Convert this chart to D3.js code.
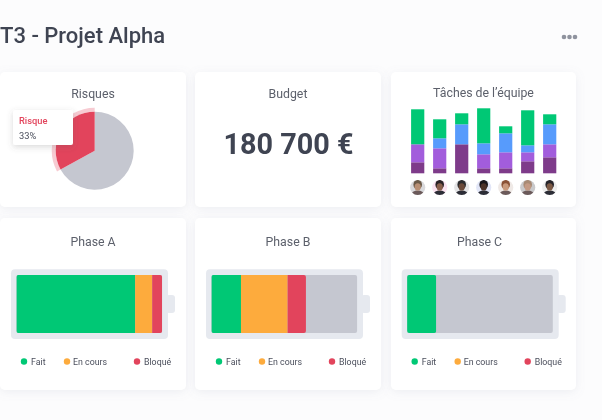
<!DOCTYPE html>
<html lang="fr"><head><meta charset="utf-8">
<script src="https://cdn.jsdelivr.net/npm/d3@7"></script>
<style>html,body{margin:0;padding:0;background:#fcfcfd;overflow:hidden}svg{display:block;font-family:Roboto,sans-serif;filter:blur(0.3px)}</style>
</head><body><svg id="c" width="602" height="420"></svg>
<script>
const pageTitle = "T3 - Projet Alpha";
const riskLabel = "Risque";
const riskValues = [67, 33];
const budgetText = "180 700 €";
const teamMembers = ["A","B","C","D","E","F","G"];
const stackKeys = ["sombre","violet","bleu","vert"];
const sombre = [11, 5, 29, 5, 5, 12, 16];
const violet = [18, 20, 0, 14, 16, 9, 13];
const bleu = [0, 10, 20, 11, 19, 7, 20];
const vert = [35, 19, 11, 35, 7, 35, 10];
const phaseNames = ["Phase A","Phase B","Phase C"];
const fait = [81.5, 20.3, 20];
const enCours = [11.7, 32, 0];
const bloque = [6.8, 12.6, 0];
const legendLabels = ["Fait","En cours","Bloqué"];

const colors = {fait:"#00c875",enCours:"#fdab3d",bloque:"#e2445c",grey:"#c5c7d0",shell:"#e6e9ef",ink:"#4b4f5c",title:"#3f4452"};
const stackColors = {sombre:"#7e3b8a",violet:"#a25ddc",bleu:"#579bfc",vert:"#00c875"};
const avatarSkin = ["#b98f74","#8a5f4c","#6b4a3a","#4a3128","#c99a7c","#c49a84","#7d5a45"];
const avatarHair = ["#6b5a48","#2a2226","#2b2b2e","#17151a","#8a5236","#a88a74","#26242a"];
const avatarBg = ["#d9d9dc","#fbe3f1","#e4e4e6","#e2e6f7","#efe9e6","#c9c9cb","#eeeeee"];

const svg = d3.select("#c");
const defs = svg.append("defs");
const sh = defs.append("filter").attr("id","sh").attr("x","-20%").attr("y","-20%").attr("width","140%").attr("height","140%");
sh.append("feDropShadow").attr("dx",0).attr("dy",2).attr("stdDeviation",5).attr("flood-color","#8a90a8").attr("flood-opacity",0.13);
const st = defs.append("filter").attr("id","st").attr("x","-30%").attr("y","-30%").attr("width","160%").attr("height","160%");
st.append("feDropShadow").attr("dx",0).attr("dy",2).attr("stdDeviation",3).attr("flood-color","#555").attr("flood-opacity",0.22);

svg.append("text").attr("x",0).attr("y",43).attr("font-size",22).attr("font-weight",500).attr("fill",colors.title).text(pageTitle);
svg.append("g").selectAll("circle").data([564,569.5,575]).join("circle")
  .attr("cx",d=>d).attr("cy",37).attr("r",2.3).attr("fill","#8f939e");

const cards = [[0,72,186,135],[195,72,186,135],[391,72,185,135],[0,218,186,172],[195,218,186,172],[391,218,185,172]];
svg.append("g").selectAll("rect").data(cards).join("rect")
  .attr("x",d=>d[0]).attr("y",d=>d[1]).attr("width",d=>d[2]).attr("height",d=>d[3]).attr("rx",5)
  .attr("fill","#fff").attr("filter","url(#sh)");

function cardTitle(x,y,t){svg.append("text").attr("x",x).attr("y",y).attr("text-anchor","middle").attr("font-size",12.3).attr("fill","#5c606b").text(t);}
cardTitle(93,98,"Risques"); cardTitle(288,98,"Budget"); cardTitle(483.5,97,"Tâches de l’équipe");

// Pie
const pieG = svg.append("g").attr("transform","translate(94.7,150.7)");
const arcs = d3.pie().sort(null)(riskValues);
pieG.append("path").attr("d",d3.arc().innerRadius(39).outerRadius(43)(arcs[1])).attr("fill",colors.bloque).attr("opacity",0.28);
pieG.selectAll("path.s").data(arcs).join("path").attr("class","s")
  .attr("d",d3.arc().innerRadius(0).outerRadius(39)).attr("fill",(d,i)=>i?colors.bloque:colors.grey);
svg.append("rect").attr("x",13).attr("y",110).attr("width",60).attr("height",35).attr("rx",2).attr("fill","#fff").attr("filter","url(#st)");
svg.append("text").attr("x",19).attr("y",124).attr("font-size",9.3).attr("font-weight",500).attr("fill",colors.bloque).text(riskLabel);
svg.append("text").attr("x",19).attr("y",139).attr("font-size",9.3).attr("fill",colors.ink).text(riskValues[1]+"%");

// Budget
svg.append("text").attr("x",288.5).attr("y",154).attr("text-anchor","middle").attr("font-size",28.8).attr("font-weight",700).attr("fill",colors.title).text(budgetText);

// Team stacks
const rows = teamMembers.map((m,i)=>({m,sombre:sombre[i],violet:violet[i],bleu:bleu[i],vert:vert[i]}));
const tx = d3.scaleBand().domain(teamMembers).range([406.7,560.7]).paddingInner(0.4).paddingOuter(0.2);
const ty = d3.scaleLinear().domain([0,64]).range([173.3,109.3]);
svg.append("g").selectAll("g").data(d3.stack().keys(stackKeys)(rows)).join("g").attr("fill",d=>stackColors[d.key])
  .selectAll("rect").data(d=>d).join("rect")
  .attr("x",d=>tx(d.data.m)).attr("width",tx.bandwidth())
  .attr("y",d=>ty(d[1])).attr("height",d=>ty(d[0])-ty(d[1]));
const av = svg.append("g").selectAll("g").data(teamMembers).join("g")
  .attr("transform",d=>`translate(${tx(d)+tx.bandwidth()/2},187.5)`);
teamMembers.forEach((m,i)=>{
  const id="av"+i; defs.append("clipPath").attr("id",id).append("circle").attr("r",7.6);
});
av.append("circle").attr("r",7.6).attr("fill",(d,i)=>avatarBg[i]);
const avIn = av.append("g").attr("clip-path",(d,i)=>`url(#av${i})`);
avIn.append("ellipse").attr("cy",7.5).attr("rx",6.5).attr("ry",4.5).attr("fill",(d,i)=>i==0||i==4||i==5?"#6b5a5a":"#2c2d36");
avIn.append("ellipse").attr("cy",-2.8).attr("rx",4.3).attr("ry",4.8).attr("fill",(d,i)=>avatarHair[i]);
avIn.append("ellipse").attr("cy",-0.6).attr("rx",3.1).attr("ry",3.7).attr("fill",(d,i)=>avatarSkin[i]);

// Batteries
const batX = [11,206,401.7];
const titleX = [93,288,479.5];
const bx = d3.scaleLinear().domain([0,100]).range([0,145.7]);
phaseNames.forEach((name,i)=>{
  const g = svg.append("g").attr("transform",`translate(${batX[i]},0)`);
  cardTitle(titleX[i], 245.5, name);
  g.append("rect").attr("x",155).attr("y",295).attr("width",9).attr("height",18).attr("rx",3).attr("fill",colors.shell);
  g.append("rect").attr("x",0).attr("y",269.3).attr("width",157).attr("height",69.7).attr("rx",4).attr("fill",colors.shell);
  const inner = g.append("g").attr("transform","translate(5.4,275)");
  inner.append("rect").attr("width",bx(100)).attr("height",58).attr("rx",2).attr("fill",colors.grey);
  const vals = [fait[i],enCours[i],bloque[i]], cols=[colors.fait,colors.enCours,colors.bloque];
  const cid="bc"+i;
  defs.append("clipPath").attr("id",cid).append("rect").attr("width",bx(d3.sum(vals))).attr("height",58).attr("rx",2);
  const seg = inner.append("g").attr("clip-path",`url(#${cid})`);
  let acc=0;
  vals.forEach((v,j)=>{ if(v>0){seg.append("rect").attr("x",bx(acc)).attr("width",bx(v)).attr("height",58).attr("fill",cols[j]);} acc+=v; });
  const legX=[13,56,126], lg=g.append("g");
  legendLabels.forEach((l,j)=>{
    lg.append("circle").attr("cx",legX[j]).attr("cy",361.5).attr("r",3.2).attr("fill",cols[j]);
    lg.append("text").attr("x",legX[j]+(j==1?6:7)).attr("y",365).attr("font-size",8.8).attr("fill",colors.ink).text(l);
  });
});
</script></body></html>
